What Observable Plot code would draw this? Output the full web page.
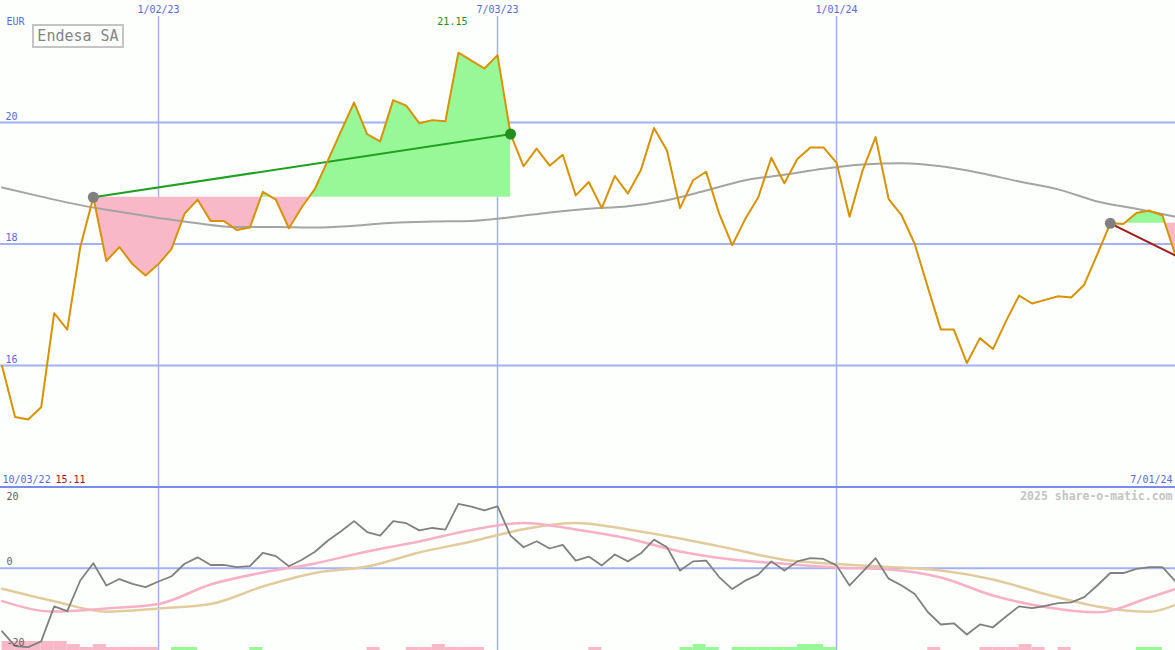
<!DOCTYPE html>
<html><head><meta charset="utf-8">
<script src="https://cdn.jsdelivr.net/npm/d3@7"></script>
<script src="https://cdn.jsdelivr.net/npm/@observablehq/plot@0.6"></script>
<style>
body{margin:0;background:#fcfffc;}
#chart{position:relative;width:1175px;height:650px;overflow:hidden;background:#fcfffc;}
#chart svg{display:block;}
#title{position:absolute;left:32px;top:24px;width:88px;height:20px;border:2px solid #c4c4c4;font:15px "DejaVu Sans Mono",monospace;color:#858585;line-height:20px;text-align:center;}
#sep{position:absolute;left:0;top:486px;width:1175px;height:2px;background:#7b8cf0;}
</style></head><body><div id="chart"></div>
<script>
// ---- data (weekly closes, EUR) ----
const firstWeek = new Date(Date.UTC(2022, 9, 10));
const price = [15.99,15.15,15.11,15.31,16.86,16.59,17.95,18.77,17.72,17.95,
17.67,17.48,17.67,17.92,18.50,18.73,18.38,18.38,18.23,18.27,
18.86,18.73,18.26,18.61,18.91,19.38,19.86,20.33,19.81,19.69,
20.37,20.28,19.99,20.04,20.02,21.15,21.02,20.89,21.11,19.81,
19.28,19.57,19.29,19.47,18.80,19.02,18.59,19.12,18.83,19.22,
19.91,19.54,18.59,19.05,19.19,18.50,17.98,18.41,18.77,19.42,
19.00,19.40,19.59,19.59,19.34,18.45,19.21,19.76,18.74,18.47,
18.00,17.29,16.59,16.59,16.04,16.45,16.27,16.73,17.15,17.02,
17.08,17.14,17.12,17.33,17.83,18.34,18.33,18.51,18.55,18.47,17.81];
// moving average read every 3rd week
const maIdx = [0,3,6,9,12,15,18,21,24,27,30,33,36,39,42,45,48,51,54,57,60,63,66,69,72,75,78,81,84,87,90];
const maVal = [18.93,18.78,18.64,18.53,18.43,18.34,18.28,18.28,18.27,18.30,18.35,18.37,18.38,18.44,18.52,18.58,
18.62,18.72,18.88,19.05,19.14,19.24,19.31,19.33,19.28,19.17,19.03,18.90,18.70,18.58,18.45];
// oscillator (lower panel)
const osc = [-15.7,-19.4,-19.65,-18.2,-9.5,-10.7,-3.06,1.24,-4.3,-2.7,
-3.9,-4.7,-3.3,-2.0,1.1,2.7,0.8,0.8,0.25,0.5,
3.8,3.0,0.5,2.1,4.1,6.9,9.2,11.7,9.0,8.1,
11.7,11.2,9.4,10.0,9.6,16.0,15.3,14.4,15.4,8.1,
5.2,6.7,4.9,5.8,1.9,2.9,0.7,3.4,1.7,3.7,
7.1,5.2,-0.6,1.7,1.9,-2.2,-5.2,-3.1,-1.6,1.7,
-0.6,1.7,2.5,2.3,0.7,-4.3,-0.9,2.5,-2.6,-4.3,
-6.4,-10.9,-14.0,-13.7,-16.5,-14.0,-14.7,-12.0,-9.5,-9.95,
-9.4,-8.7,-8.5,-7.2,-4.3,-1.2,-1.2,-0.15,0.25,0.25,-3.3];
const sigIdx = [0,4,8,12,16,20,24,28,32,36,40,44,48,52,56,60,64,68,72,76,80,84,88,90];
const sigFast = [-8.2,-10.8,-10.0,-8.9,-4.05,-1.07,1.17,4.15,6.64,9.5,11.24,9.63,7.39,4.15,2.16,1.09,0.17,-0.32,-2.31,-6.79,-9.65,-10.95,-7.29,-5.17];
const sigSlow = [-5.12,-8.21,-10.82,-10.02,-8.91,-4.55,-1.19,0.42,3.91,6.64,9.68,11.24,9.63,7.39,4.78,2.09,1.04,0.30,-0.57,-2.81,-6.42,-9.53,-10.85,-9.10];
// weekly signal bars (negative = pink, positive = green)
const barIdx = [0,1,2,3,4,5,6,7,8,9,10,11,13,14,19,28,31,32,33,34,35,36,45,52,53,54,56,57,58,59,60,61,62,63,71,75,76,77,78,79,81,87,88];
const barLvl = [-3,-3,-3,-3,-3,-2,-1,-2,-1,-1,-1,-1,1,1,1,-1,-1,-1,-2,-1,-1,-1,-1,1,2,1,1,1,1,1,1,2,2,1,-1,-1,-1,-1,-2,-1,-1,1,1];
const gridDates = [new Date(Date.UTC(2023,0,2)), new Date(Date.UTC(2023,6,3)), new Date(Date.UTC(2024,0,1))];
const gridLabels = ["1/02/23","7/03/23","1/01/24"];
const priceTicks = [16,18,20];
const trend1 = [7,39];   // from / to index
const trend2 = [85,90];
const startLabel = "10/03/22", endLabel = "7/01/24", minLabel = "15.11", maxLabel = "21.15";

// ---- derived ----
const dates = price.map((_, i) => d3.utcWeek.offset(firstWeek, i));
const endDate = new Date(Date.UTC(2024,6,1));
const xDomain = [new Date(Date.UTC(2022,9,9,4)), endDate];
const P = price.map((v,i)=>({date:dates[i], v, o:osc[i]}));
const MA = maIdx.map((i,k)=>({date:dates[i], v:maVal[k]}));
const SF = sigIdx.map((i,k)=>({date:dates[i], v:sigFast[k]}));
const SS = sigIdx.map((i,k)=>({date:dates[i], v:sigSlow[k]}));

function splitFill(a, b, level){
  const pts=[];
  for(let i=a;i<=b;i++){
    pts.push({date:dates[i], v:price[i]});
    if(i<b){
      const u=price[i]-level, w=price[i+1]-level;
      if(u*w<0){const t=u/(u-w); pts.push({date:new Date(+dates[i]+t*(dates[i+1]-dates[i])), v:level});}
    }
  }
  return pts;
}
const lvl1 = price[trend1[0]], lvl2 = price[trend2[0]];
const F1 = splitFill(trend1[0], trend1[1], lvl1);
const F2 = splitFill(trend2[0], trend2[1], lvl2);
const T1 = trend1.map(i=>({date:dates[i], v:price[i]}));
const T2 = trend2.map(i=>({date:dates[i], v:price[i]}));

const GREEN="#98f898", PINK="#f8b8c8", GRID="#a4b2f2", BLUE="#5a68e6";
const mono = "DejaVu Sans Mono";
const yLow = [-20.47, 20.07];

const upper = Plot.plot({
  width:1175, height:487, margin:0,
  style:{background:"#fcfffc", fontFamily:mono, fontSize:"10px"},
  x:{type:"utc", domain:xDomain, axis:null},
  y:{domain:[13.99,22.01], axis:null},
  marks:[
    Plot.ruleY(priceTicks, {stroke:GRID, strokeWidth:2}),
    Plot.ruleX(gridDates, {stroke:GRID, strokeWidth:1.5, insetTop:16}),
    Plot.areaY(F1, {x:"date", y1:()=>lvl1, y2:d=>Math.max(d.v,lvl1), fill:GREEN}),
    Plot.areaY(F1, {x:"date", y1:()=>lvl1, y2:d=>Math.min(d.v,lvl1), fill:PINK}),
    Plot.areaY(F2, {x:"date", y1:()=>lvl2, y2:d=>Math.max(d.v,lvl2), fill:GREEN}),
    Plot.areaY(F2, {x:"date", y1:()=>lvl2, y2:d=>Math.min(d.v,lvl2), fill:PINK}),
    Plot.line(MA, {x:"date", y:"v", stroke:"#a4a4a4", strokeWidth:2, curve:"monotone-x"}),
    Plot.line(T1, {x:"date", y:"v", stroke:"#20a020", strokeWidth:2}),
    Plot.line(P, {x:"date", y:"v", stroke:"#d89200", strokeWidth:2}),
    Plot.line(T2, {x:"date", y:"v", stroke:"#a01818", strokeWidth:2}),
    Plot.dot([T1[0], T2[0]], {x:"date", y:"v", r:5.5, fill:"#808080"}),
    Plot.dot([T1[1]], {x:"date", y:"v", r:5.5, fill:"#209020"}),
    Plot.text(priceTicks, {y:d=>d, text:d=>String(d), frameAnchor:"left", textAnchor:"start", dx:5, dy:-6, fill:BLUE, fontFamily:mono, fontSize:10}),
    Plot.text(gridDates, {x:d=>d, text:(d,i)=>gridLabels[i], frameAnchor:"top", lineAnchor:"middle", dy:9, fill:BLUE, fontFamily:mono, fontSize:10}),
    Plot.text([maxLabel], {x:()=>dates[price.indexOf(d3.max(price))], text:d=>d, frameAnchor:"top", lineAnchor:"middle", dy:21, dx:-6, fill:"#209020", fontFamily:mono, fontSize:10}),
    Plot.text(["EUR"], {text:d=>d, frameAnchor:"top-left", textAnchor:"start", lineAnchor:"middle", dx:6, dy:21, fill:BLUE, fontFamily:mono, fontSize:10}),
    Plot.text([startLabel], {text:d=>d, frameAnchor:"bottom-left", textAnchor:"start", lineAnchor:"middle", dx:2, dy:-8, fill:BLUE, fontFamily:mono, fontSize:10}),
    Plot.text([minLabel], {text:d=>d, frameAnchor:"bottom-left", textAnchor:"start", lineAnchor:"middle", dx:55, dy:-8, fill:"#a01818", fontFamily:mono, fontSize:10}),
    Plot.text([endLabel], {text:d=>d, frameAnchor:"bottom-right", textAnchor:"end", lineAnchor:"middle", dx:-3, dy:-8, fill:BLUE, fontFamily:mono, fontSize:10})
  ]
});

const bars = barIdx.map((i,k)=>({x1:dates[i], x2: i+1<dates.length ? dates[i+1] : endDate, lvl:barLvl[k]}));
const lower = Plot.plot({
  width:1175, height:163, margin:0,
  style:{background:"#fcfffc", fontFamily:mono, fontSize:"10px"},
  x:{type:"utc", domain:xDomain, axis:null},
  y:{domain:yLow, axis:null},
  marks:[
    Plot.ruleY([0], {stroke:GRID, strokeWidth:2}),
    Plot.ruleX(gridDates, {stroke:GRID, strokeWidth:1.5}),
    Plot.rect(bars, {x1:"x1", x2:"x2", y1:()=>yLow[0], y2:d=>yLow[0]+Math.abs(d.lvl)*0.75, fill:d=>d.lvl<0?PINK:GREEN}),
    Plot.line(SS, {x:"date", y:"v", stroke:"#e2cc9e", strokeWidth:2.5, curve:"monotone-x"}),
    Plot.line(SF, {x:"date", y:"v", stroke:"#f8b0c8", strokeWidth:2.5, curve:"monotone-x"}),
    Plot.line(P, {x:"date", y:"o", stroke:"#808080", strokeWidth:1.8}),
    Plot.text(["20"], {text:d=>d, frameAnchor:"top-left", textAnchor:"start", lineAnchor:"middle", dx:6, dy:9, fill:"#606060", fontFamily:mono, fontSize:10}),
    Plot.text([0,-20], {y:d=>d, text:d=>String(d), frameAnchor:"left", textAnchor:"start", lineAnchor:"middle", dx:6, dy:-6, fill:"#606060", fontFamily:mono, fontSize:10}),
    Plot.text(["2025 share-o-matic.com"], {text:d=>d, frameAnchor:"top-right", textAnchor:"end", lineAnchor:"middle", dx:-3, dy:9, fill:"#c4c4c4", fontFamily:mono, fontSize:11.5, fontWeight:"bold"})
  ]
});

const chart = document.getElementById("chart");
chart.appendChild(upper);
chart.appendChild(lower);
const sep = document.createElement("div"); sep.id="sep"; chart.appendChild(sep);
const title = document.createElement("div"); title.id="title"; title.textContent="Endesa SA"; chart.appendChild(title);
</script>
</body></html>
